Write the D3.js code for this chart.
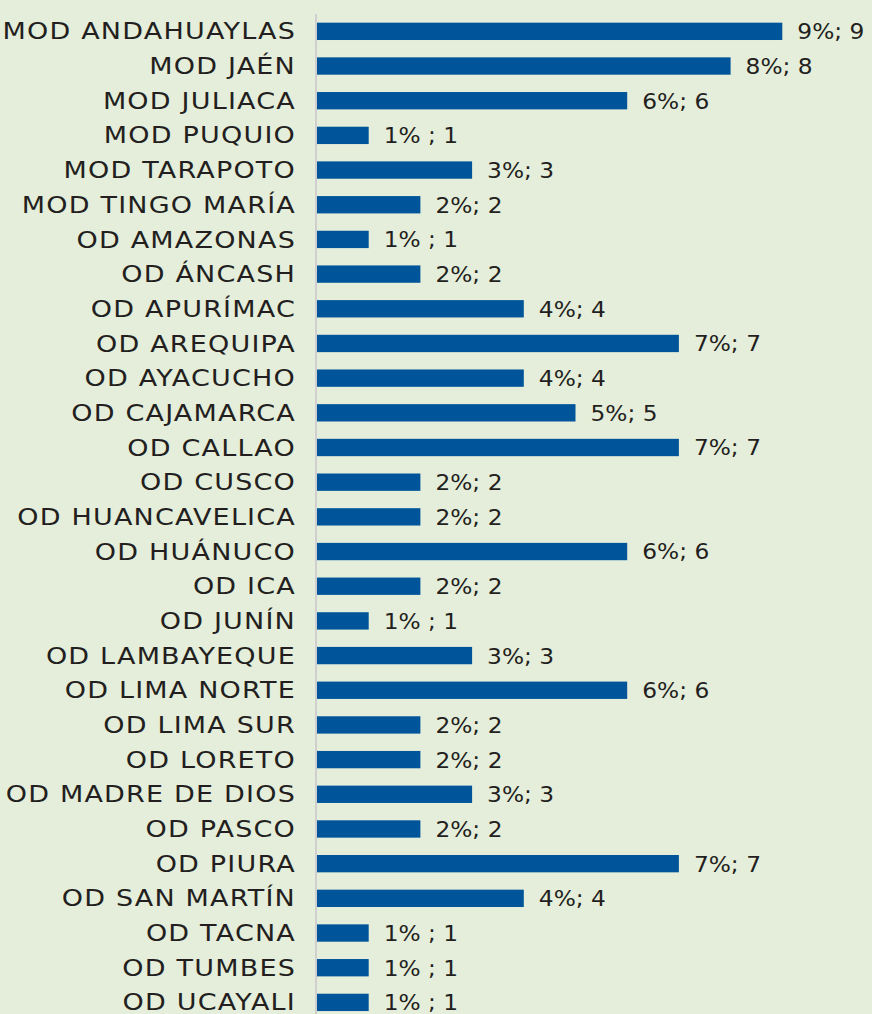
<!DOCTYPE html>
<html>
<head>
<meta charset="utf-8">
<script src="https://cdn.jsdelivr.net/npm/d3@7"></script>
<style>
    body { margin: 0; background: #e5eedb; }
    svg { display: block; }
</style>
</head>
<body>
<script>
const categories = [
    'MOD ANDAHUAYLAS', 'MOD JAÉN', 'MOD JULIACA', 'MOD PUQUIO', 'MOD TARAPOTO',
    'MOD TINGO MARÍA', 'OD AMAZONAS', 'OD ÁNCASH', 'OD APURÍMAC', 'OD AREQUIPA',
    'OD AYACUCHO', 'OD CAJAMARCA', 'OD CALLAO', 'OD CUSCO', 'OD HUANCAVELICA',
    'OD HUÁNUCO', 'OD ICA', 'OD JUNÍN', 'OD LAMBAYEQUE', 'OD LIMA NORTE',
    'OD LIMA SUR', 'OD LORETO', 'OD MADRE DE DIOS', 'OD PASCO', 'OD PIURA',
    'OD SAN MARTÍN', 'OD TACNA', 'OD TUMBES', 'OD UCAYALI'
];
const counts = [9, 8, 6, 1, 3, 2, 1, 2, 4, 7, 4, 5, 7, 2, 2, 6, 2, 1, 3, 6, 2, 2, 3, 2, 7, 4, 1, 1, 1];
const percents = ['9%', '8%', '6%', '1% ', '3%', '2%', '1% ', '2%', '4%', '7%', '4%', '5%', '7%', '2%', '2%',
    '6%', '2%', '1% ', '3%', '6%', '2%', '2%', '3%', '2%', '7%', '4%', '1% ', '1% ', '1% '];

const width = 872;
const height = 1014;
const marginLeft = 317;
const fontFamily = 'DejaVu Sans, sans-serif';

const data = categories.map((c, i) => ({ name: c, count: counts[i], pct: percents[i] }));

const svg = d3.select('body').append('svg')
    .attr('width', width)
    .attr('height', height);

svg.append('rect')
    .attr('width', width)
    .attr('height', height)
    .attr('fill', '#e5eedb');

const x = d3.scaleLinear()
    .domain([0, 9])
    .range([marginLeft, marginLeft + 9 * 51.7]);

const y = d3.scaleBand()
    .domain(categories)
    .range([14, 14 + 34.68 * 29])
    .paddingInner(0.5)
    .paddingOuter(0.25);

// vertical axis line
svg.append('line')
    .attr('x1', marginLeft - 1)
    .attr('x2', marginLeft - 1)
    .attr('y1', 14)
    .attr('y2', height)
    .attr('stroke', '#cfcfcf')
    .attr('stroke-width', 2);

// bars
svg.selectAll('.bar')
    .data(data)
    .enter()
    .append('rect')
    .attr('class', 'bar')
    .attr('x', x(0))
    .attr('y', d => y(d.name))
    .attr('width', d => x(d.count) - x(0))
    .attr('height', y.bandwidth())
    .attr('fill', '#00559a');

// category labels (widened to approximate the original geometric face)
svg.selectAll('.cat')
    .data(data)
    .enter()
    .append('text')
    .attr('class', 'cat')
    .attr('transform', d => `translate(296, ${y(d.name) + y.bandwidth() / 2}) scale(1.2, 1)`)
    .attr('dy', '0.36em')
    .attr('text-anchor', 'end')
    .attr('font-family', fontFamily)
    .attr('font-size', 22.5)
    .attr('letter-spacing', 1)
    .attr('fill', '#231f20')
    .text(d => d.name);

// value labels
svg.selectAll('.val')
    .data(data)
    .enter()
    .append('text')
    .attr('class', 'val')
    .attr('transform', d => `translate(${x(d.count) + 15}, ${y(d.name) + y.bandwidth() / 2}) scale(1.06, 1)`)
    .attr('dy', '0.36em')
    .attr('font-family', fontFamily)
    .attr('font-size', 22)
    .attr('fill', '#231f20')
    .text(d => `${d.pct}; ${d.count}`);
</script>
</body>
</html>
